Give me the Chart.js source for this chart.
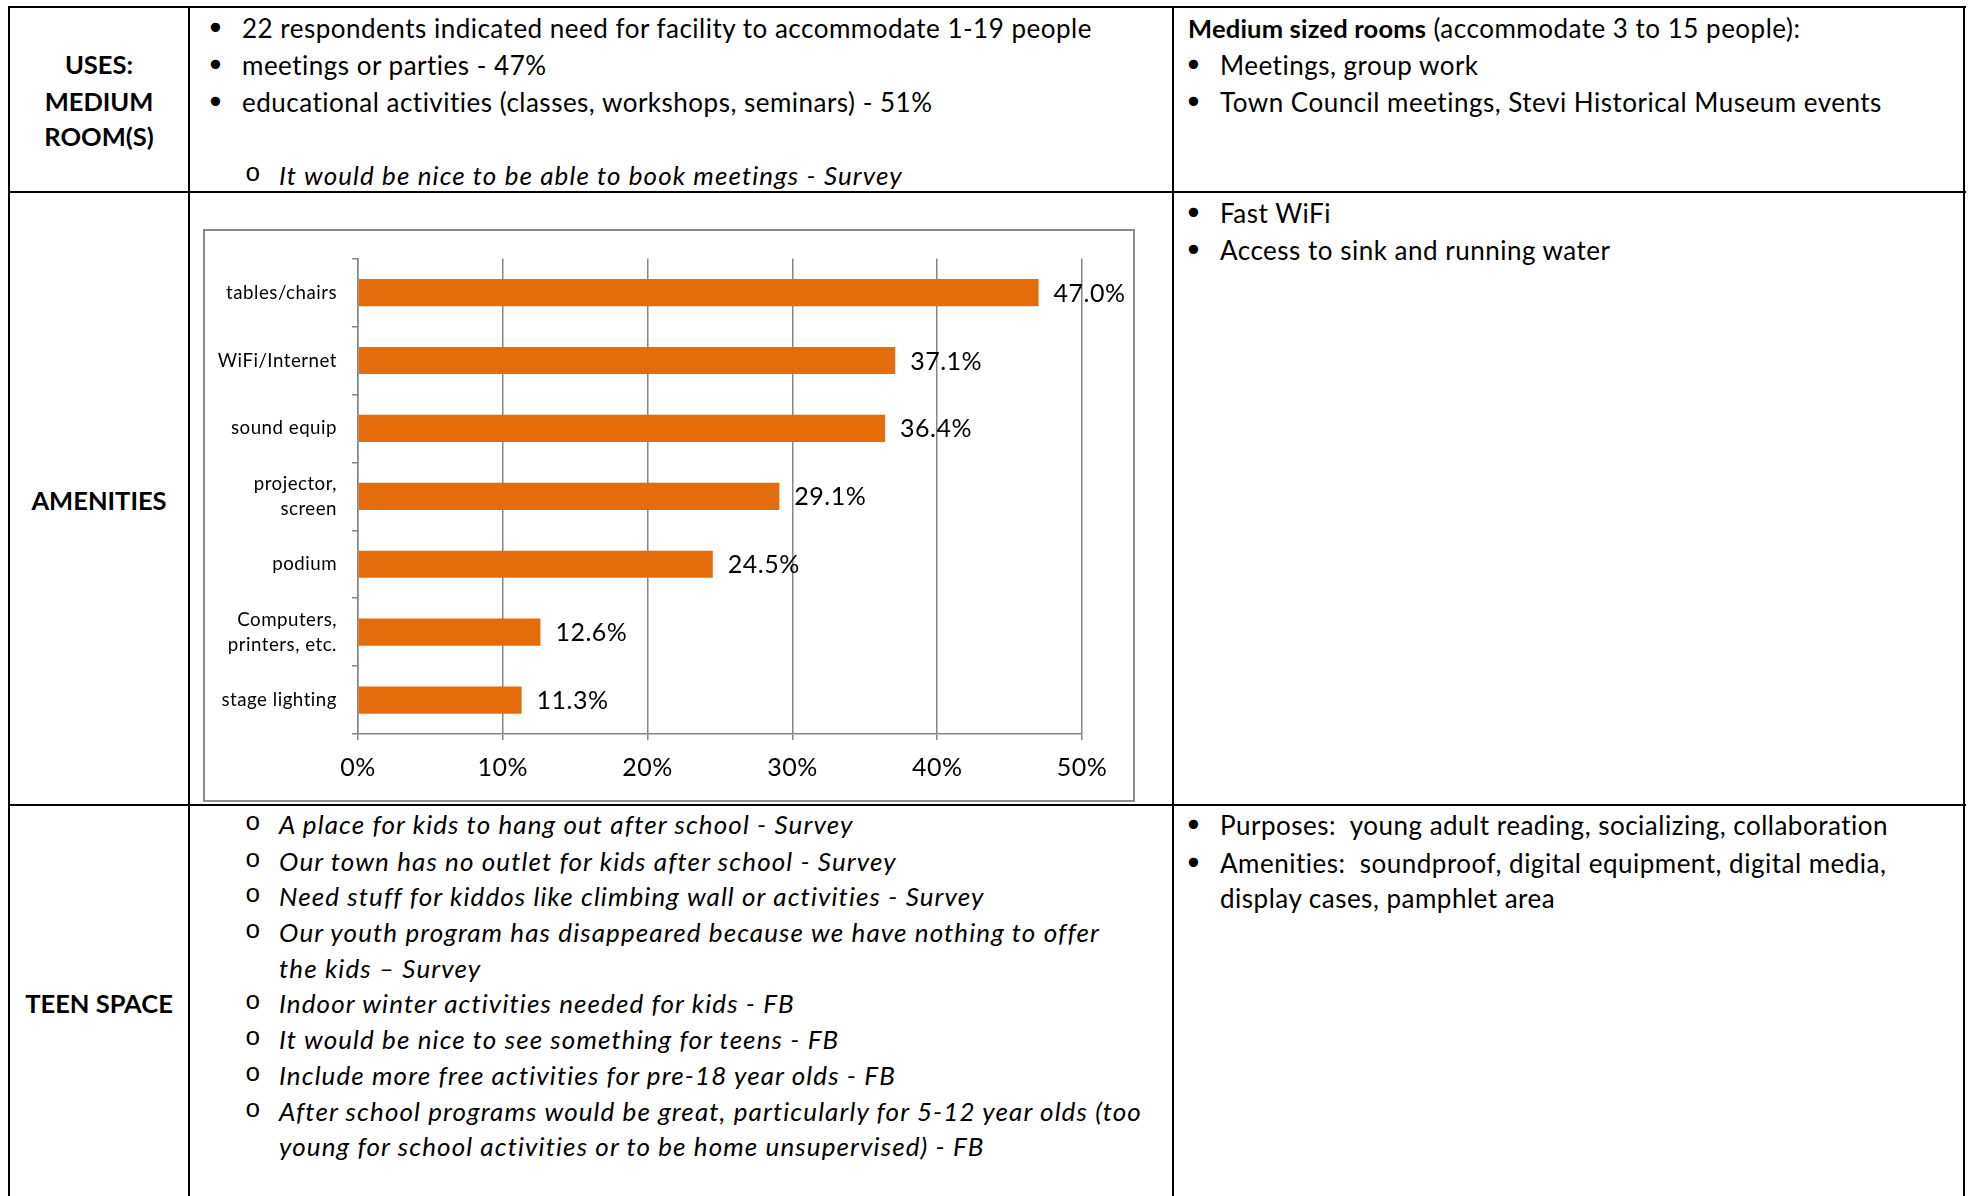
<!DOCTYPE html>
<html>
<head>
<meta charset="utf-8">
<script src="https://cdn.jsdelivr.net/npm/chart.js@4.4.1/dist/chart.umd.min.js"></script>
<style>
  html, body { margin: 0; padding: 0; background: #fff; }
  #page { position: relative; width: 1973px; height: 1196px; overflow: hidden; font-family: Lato, "Noto Sans", sans-serif; font-size: 26px; letter-spacing: 0.5px; color: #000; }
  .hl { position: absolute; height: 2px; background: #000; }
  .vl { position: absolute; width: 2px; background: #000; }
  .ln { position: absolute; height: 36px; line-height: 36px; white-space: pre; }
  .ln b { letter-spacing: 0.2px; font-size: 25.5px; }
  .hd { position: absolute; height: 36px; line-height: 36px; font-weight: bold; font-size: 25.5px; letter-spacing: 0; text-align: center; width: 180px; left: 9px; }
  .it { font-style: italic; letter-spacing: 1.1px; }
  .dot { position: absolute; height: 36px; line-height: 36px; font-family: "DejaVu Sans"; font-size: 32px; letter-spacing: 0; }
  .ring { position: absolute; height: 36px; line-height: 36px; font-family: "Liberation Mono"; font-size: 26px; letter-spacing: 0; }
  #chartBox { position: absolute; left: 203px; top: 229px; width: 928px; height: 569px; border: 2px solid #8c8c8c; background: #fff; }
  #chartBox canvas { display: block; }
</style>
</head>
<body>
<div id="page">
  <!-- table grid -->
  <div class="hl" style="left:8px;top:6px;width:1958px"></div>
  <div class="hl" style="left:8px;top:191px;width:1958px"></div>
  <div class="hl" style="left:8px;top:804px;width:1958px"></div>
  <div class="vl" style="left:8px;top:6px;height:1190px"></div>
  <div class="vl" style="left:188px;top:6px;height:1190px"></div>
  <div class="vl" style="left:1172px;top:6px;height:1190px"></div>
  <div class="vl" style="left:1963px;top:6px;height:1190px"></div>

  <!-- row 1 -->
  <div class="hd" style="top:46px">USES:</div>
  <div class="hd" style="top:83px">MEDIUM</div>
  <div class="hd" style="top:118px">ROOM(S)</div>

  <div class="dot" style="left:206px;top:10px">•</div>
  <div class="ln" style="left:242px;top:10px">22 respondents indicated need for facility to accommodate 1-19 people</div>
  <div class="dot" style="left:206px;top:47px">•</div>
  <div class="ln" style="left:242px;top:47px">meetings or parties - 47%</div>
  <div class="dot" style="left:206px;top:84px">•</div>
  <div class="ln" style="left:242px;top:84px">educational activities (classes, workshops, seminars) - 51%</div>
  <div class="ring" style="left:245px;top:156px">o</div>
  <div class="ln it" style="left:279px;top:157px">It would be nice to be able to book meetings - Survey</div>

  <div class="ln" style="left:1188px;top:10px"><b>Medium sized rooms</b> (accommodate 3 to 15 people):</div>
  <div class="dot" style="left:1184px;top:47px">•</div>
  <div class="ln" style="left:1220px;top:47px">Meetings, group work</div>
  <div class="dot" style="left:1184px;top:84px">•</div>
  <div class="ln" style="left:1220px;top:84px">Town Council meetings, Stevi Historical Museum events</div>

  <!-- row 2 -->
  <div class="hd" style="top:482px">AMENITIES</div>
  <div id="chartBox"><canvas id="amenitiesChart" width="928" height="569"></canvas></div>
  <div class="dot" style="left:1184px;top:195px">•</div>
  <div class="ln" style="left:1220px;top:195px">Fast WiFi</div>
  <div class="dot" style="left:1184px;top:232px">•</div>
  <div class="ln" style="left:1220px;top:232px">Access to sink and running water</div>

  <!-- row 3 -->
  <div class="hd" style="top:985px">TEEN SPACE</div>

  <div class="ring" style="left:245px;top:805px">o</div>
  <div class="ln it" style="left:279px;top:806px">A place for kids to hang out after school - Survey</div>
  <div class="ring" style="left:245px;top:842px">o</div>
  <div class="ln it" style="left:279px;top:843px">Our town has no outlet for kids after school - Survey</div>
  <div class="ring" style="left:245px;top:877px">o</div>
  <div class="ln it" style="left:279px;top:878px">Need stuff for kiddos like climbing wall or activities - Survey</div>
  <div class="ring" style="left:245px;top:913px">o</div>
  <div class="ln it" style="left:279px;top:914px">Our youth program has disappeared because we have nothing to offer</div>
  <div class="ln it" style="left:279px;top:950px">the kids – Survey</div>
  <div class="ring" style="left:245px;top:984px">o</div>
  <div class="ln it" style="left:279px;top:985px">Indoor winter activities needed for kids - FB</div>
  <div class="ring" style="left:245px;top:1020px">o</div>
  <div class="ln it" style="left:279px;top:1021px">It would be nice to see something for teens - FB</div>
  <div class="ring" style="left:245px;top:1056px">o</div>
  <div class="ln it" style="left:279px;top:1057px">Include more free activities for pre-18 year olds - FB</div>
  <div class="ring" style="left:245px;top:1092px">o</div>
  <div class="ln it" style="left:279px;top:1093px">After school programs would be great, particularly for 5-12 year olds (too</div>
  <div class="ln it" style="left:279px;top:1128px">young for school activities or to be home unsupervised) - FB</div>

  <div class="dot" style="left:1184px;top:807px">•</div>
  <div class="ln" style="left:1220px;top:807px">Purposes:  young adult reading, socializing, collaboration</div>
  <div class="dot" style="left:1184px;top:845px">•</div>
  <div class="ln" style="left:1220px;top:845px">Amenities:  soundproof, digital equipment, digital media,</div>
  <div class="ln" style="left:1220px;top:880px">display cases, pamphlet area</div>
</div>

<script>
// Amenities survey data
const categories = ['tables/chairs', 'WiFi/Internet', 'sound equip', ['projector,', 'screen'], 'podium', ['Computers,', 'printers, etc.'], 'stage lighting'];
const shares = [47.0, 37.1, 36.4, 29.1, 24.5, 12.6, 11.3];
const axisMax = 50;
const axisStep = 10;

const gridGray = '#868686';

// Percent labels at the end of each bar
const valueLabels = {
    id: 'valueLabels',
    afterDatasetsDraw(chart) {
        const ctx = chart.ctx;
        const meta = chart.getDatasetMeta(0);
        ctx.save();
        ctx.font = '25px Lato';
        ctx.fillStyle = '#000';
        ctx.textBaseline = 'middle';
        ctx.textAlign = 'left';
        meta.data.forEach((bar, i) => {
            ctx.fillText(shares[i].toFixed(1) + '%', bar.x + 15, bar.y + 1);
        });
        ctx.restore();
    }
};

const ctx = document.getElementById('amenitiesChart').getContext('2d');
new Chart(ctx, {
    type: 'bar',
    data: {
        labels: categories,
        datasets: [{
            label: 'Amenities',
            data: shares,
            backgroundColor: '#E46C0A',
            borderWidth: 0,
            barPercentage: 0.4,
            categoryPercentage: 1.0
        }]
    },
    options: {
        indexAxis: 'y',
        responsive: false,
        animation: false,
        layout: {
            padding: { top: 27, right: 51, bottom: 0, left: 0 }
        },
        scales: {
            x: {
                min: 0,
                max: axisMax,
                afterFit: (scale) => { scale.height = 66; },
                grid: {
                    color: gridGray,
                    lineWidth: 1.5,
                    tickLength: 6
                },
                border: { color: gridGray, width: 1.5 },
                ticks: {
                    stepSize: axisStep,
                    padding: 13,
                    color: '#000',
                    font: { family: 'Lato', size: 25 },
                    callback: (v) => v + '%'
                }
            },
            y: {
                afterFit: (scale) => { scale.width = 153; },
                grid: {
                    offset: true,
                    drawOnChartArea: false,
                    color: gridGray,
                    lineWidth: 1.5,
                    tickLength: 6
                },
                border: { color: gridGray, width: 1.5 },
                ticks: {
                    padding: 15,
                    color: '#000',
                    font: { family: 'Lato', size: 18.7, lineHeight: 1.35 }
                }
            }
        },
        plugins: {
            legend: { display: false },
            tooltip: { enabled: false }
        }
    },
    plugins: [valueLabels]
});
</script>
</body>
</html>
